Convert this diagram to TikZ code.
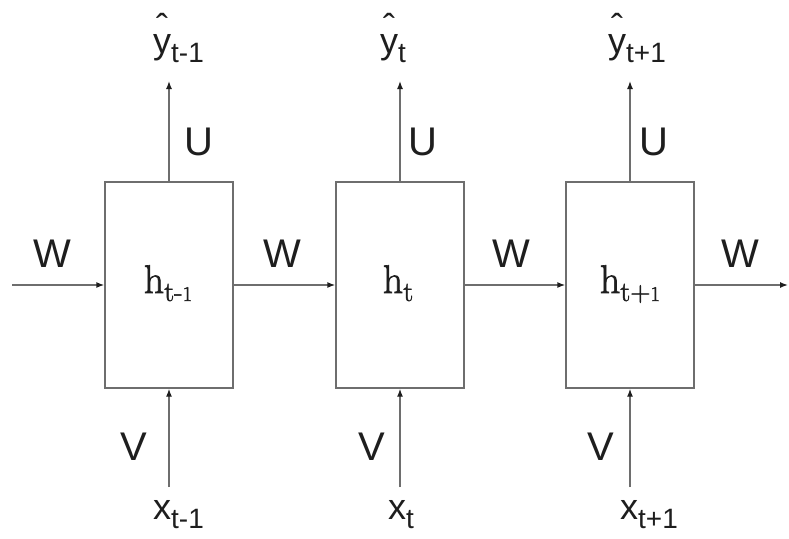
\documentclass[tikz,border=0pt]{standalone}
\usepackage{fontspec}
\newfontfamily\labfont{Liberation Sans}
\newfontfamily\hfont[FakeBold=1.6]{Latin Modern Roman}
\usetikzlibrary{arrows.meta}
\definecolor{linegray}{HTML}{6E6E6E}
\definecolor{ink}{HTML}{1E1E1E}
\newcommand\osone{{\fontsize{21}{21}\selectfont 1}}
\newcommand\hatY{\ooalign{y\cr\hidewidth\raisebox{14pt}{\char"02C6}\hidewidth\cr}}
\newcommand\lsub[1]{\raisebox{-9pt}{\fontsize{28}{28}\selectfont #1}}
\newcommand\hsub[1]{\raisebox{-8pt}{\fontsize{28}{28}\selectfont #1}}
\begin{document}
\begin{tikzpicture}[x=1pt,y=-1pt,
  cell/.style={draw=linegray, line width=1.4pt, minimum width=128pt, minimum height=206pt, inner sep=0pt},
  conn/.style={draw=linegray, line width=1.4pt, -{Latex[length=8pt,width=6pt,fill=ink,color=ink]}},
  wlab/.style={font=\labfont\fontsize{40}{40}\selectfont, text=ink, inner sep=0pt, anchor=base},
  iolab/.style={font=\labfont\fontsize{36}{36}\selectfont, text=ink, inner sep=0pt, anchor=base west},
  hlab/.style={font=\hfont\fontsize{40}{40}\selectfont, text=ink, inner sep=0pt, anchor=base}]
\useasboundingbox (0,0) rectangle (789,538);
\fill[white] (0,0) rectangle (789,538);

% cells
\node[cell] (b1) at (169,285) {};
\node[cell] (b2) at (400,285) {};
\node[cell] (b3) at (630,285) {};

% hidden-state labels
\node[hlab] (h1) at (168,293) {h\hsub{t-\osone}};
\node[hlab] (h2) at (398,293) {h\hsub{t}};
\node[hlab] (h3) at (630,293) {h\hsub{t+\osone}};

% free ends
\coordinate (in0) at (12,285);
\coordinate (out3) at (788,285);
\coordinate (y1e) at (169,81);
\coordinate (y2e) at (400,81);
\coordinate (y3e) at (630,81);
\coordinate (x1s) at (169,487);
\coordinate (x2s) at (400,487);
\coordinate (x3s) at (630,487);

% horizontal connectors
\draw[conn] (in0) -- (b1.west);
\draw[conn] (b1.east) -- (b2.west);
\draw[conn] (b2.east) -- (b3.west);
\draw[conn] (b3.east) -- (out3);

% vertical connectors
\draw[conn] (b1.north) -- (y1e);
\draw[conn] (b2.north) -- (y2e);
\draw[conn] (b3.north) -- (y3e);
\draw[conn] (x1s) -- (b1.south);
\draw[conn] (x2s) -- (b2.south);
\draw[conn] (x3s) -- (b3.south);

% weight labels
\node[wlab] (w0) at (52,267) {W};
\node[wlab] (w1) at (282,267) {W};
\node[wlab] (w2) at (511,267) {W};
\node[wlab] (w3) at (740,267) {W};
\node[wlab] (u1) at (199,155) {U};
\node[wlab] (u2) at (423,155) {U};
\node[wlab] (u3) at (654,155) {U};
\node[wlab] (v1) at (134,460) {V};
\node[wlab] (v2) at (372,460) {V};
\node[wlab] (v3) at (601,460) {V};

% outputs
\node[iolab] (o1) at (153,53) {\hatY\lsub{t-1}};
\node[iolab] (o2) at (380,53) {\hatY\lsub{t}};
\node[iolab] (o3) at (608,53) {\hatY\lsub{t+1}};

% inputs
\node[iolab] (i1) at (153,519) {x\lsub{t-1}};
\node[iolab] (i2) at (388,519) {x\lsub{t}};
\node[iolab] (i3) at (620,519) {x\lsub{t+1}};
\end{tikzpicture}
\end{document}
